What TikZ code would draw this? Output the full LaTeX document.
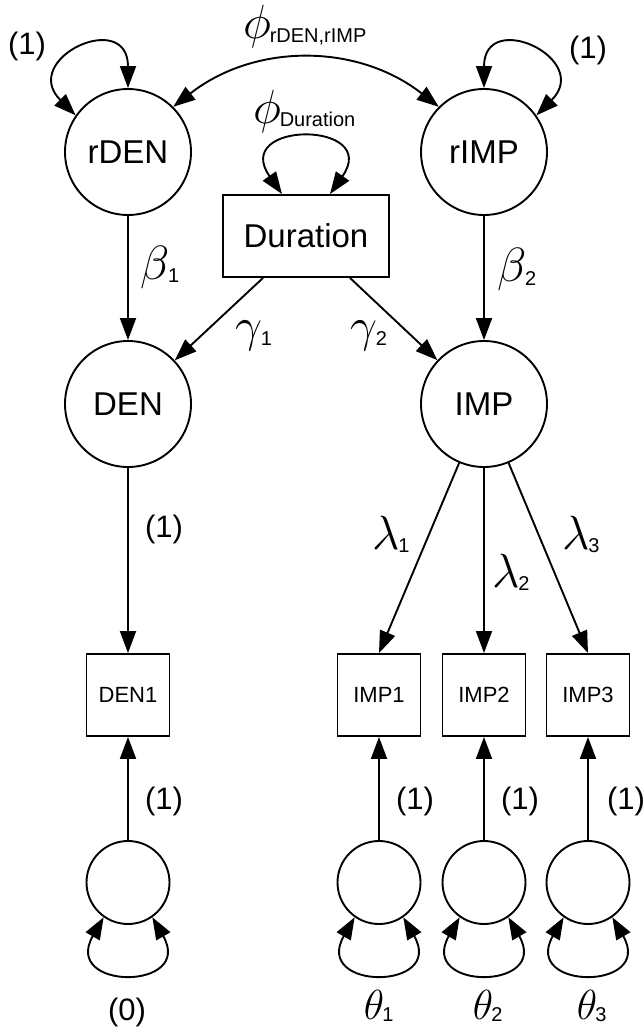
\RequirePackage{fix-cm}
\documentclass[tikz,border=0pt]{standalone}
\usepackage{fontspec}
\setmainfont{Liberation Sans}
\usetikzlibrary{arrows.meta}

% Greek parameter with a sans-serif subscript: [size] {letter} {lowering} {subscript}
\newcommand\grsub[4][48]{{\fontsize{#1}{#1}\selectfont$#2$}\kern-2pt\raisebox{-#3pt}{\fontsize{20}{20}\selectfont #4}}

\tikzset{
  latent/.style={circle, draw, minimum size=126pt, inner sep=0pt, font=\fontsize{33}{36}\selectfont},
  resid/.style={circle, draw, minimum size=83pt, inner sep=0pt},
  indicator/.style={rectangle, draw, minimum width=83pt, minimum height=82pt, inner sep=0pt, font=\fontsize{22}{24}\selectfont},
  covariate/.style={rectangle, draw, minimum width=166pt, minimum height=82pt, inner sep=0pt, font=\fontsize{33}{36}\selectfont},
  reg/.style={-{Triangle[length=22pt,width=16pt]}},
  twoway/.style={{Triangle[length=22pt,width=16pt]}-{Triangle[length=22pt,width=16pt]}},
  fixlbl/.style={inner sep=0pt, font=\fontsize{31}{34}\selectfont},
  greek/.style={inner sep=0pt, anchor=base west},
}

\begin{document}
\begin{tikzpicture}[x=1pt, y=1pt, line width=1.9pt]
\useasboundingbox (0,0) rectangle (644,-1027);

% structural part
\node[latent] (rDEN) at (128,-152) {rDEN};
\node[latent] (rIMP) at (484,-152) {rIMP};
\node[covariate] (Dur) at (306,-236) {Duration};
\node[latent] (DEN) at (128,-404) {DEN};
\node[latent] (IMP) at (484,-404) {IMP};

% measurement part
\node[indicator] (DEN1) at (128,-695) {DEN1};
\node[indicator] (IMP1) at (379,-695) {IMP1};
\node[indicator] (IMP2) at (484,-695) {IMP2};
\node[indicator] (IMP3) at (588,-695) {IMP3};

\node[resid] (e0) at (128,-882.5) {};
\node[resid] (e1) at (379,-882.5) {};
\node[resid] (e2) at (484,-882.5) {};
\node[resid] (e3) at (588,-882.5) {};

% regressions
\draw[reg] (rDEN) -- (DEN);
\draw[reg] (rIMP) -- (IMP);
\draw[reg] ([xshift=-43pt]Dur.south) -- (DEN);
\draw[reg] ([xshift=44pt]Dur.south) -- (IMP);
\draw[reg] (DEN) -- (DEN1);
\draw[reg] (IMP) -- (IMP1.north);
\draw[reg] (IMP) -- (IMP2);
\draw[reg] (IMP) -- (IMP3.north);
\draw[reg] (e0) -- (DEN1);
\draw[reg] (e1) -- (IMP1);
\draw[reg] (e2) -- (IMP2);
\draw[reg] (e3) -- (IMP3);

% covariance and variances
\draw[twoway] (rDEN.45) to[bend left=38] (rIMP.135);
\draw[twoway] (rDEN.145) to[out=135, in=90, distance=80pt] (rDEN.90);
\draw[twoway] (rIMP.35) to[out=45, in=90, distance=80pt] (rIMP.90);
\draw[twoway] ([xshift=-24pt]Dur.north) to[out=125, in=55, distance=90pt] ([xshift=24pt]Dur.north);
\draw[twoway] (e0.235) to[out=240, in=300, distance=85pt] (e0.305);
\draw[twoway] (e1.235) to[out=240, in=300, distance=85pt] (e1.305);
\draw[twoway] (e2.235) to[out=240, in=300, distance=85pt] (e2.305);
\draw[twoway] (e3.235) to[out=240, in=300, distance=85pt] (e3.305);

% fixed values
\node[fixlbl] (vrDEN) at (27,-46) {(1)};
\node[fixlbl] (vrIMP) at (588,-50) {(1)};
\node[fixlbl] (ld1) at (164,-529) {(1)};
\node[fixlbl] (f0) at (164,-801) {(1)};
\node[fixlbl] (f1) at (415,-801) {(1)};
\node[fixlbl] (f2) at (520,-801) {(1)};
\node[fixlbl] (f3) at (626,-801) {(1)};
\node[fixlbl] (v0) at (127,-1012) {(0)};

% free parameters
\node[greek] (phiR) at (243,-39) {\grsub{\phi}{4}{rDEN,rIMP}};
\node[greek] (phiD) at (253,-124) {\grsub{\phi}{3}{Duration}};
\node[greek] (b1) at (140,-279) {\grsub{\beta}{3}{1}};
\node[greek] (b2) at (497,-281) {\grsub{\beta}{4}{2}};
\node[greek] (g1) at (235,-341) {\grsub{\gamma}{4}{1}};
\node[greek] (g2) at (350,-341) {\grsub{\gamma}{4}{2}};
\node[greek] (l1) at (372,-549) {\grsub{\lambda}{3}{1}};
\node[greek] (l2) at (492,-587) {\grsub{\lambda}{3}{2}};
\node[greek] (l3) at (562,-549) {\grsub{\lambda}{3}{3}};
\node[greek] (t1) at (363,-1019) {\grsub[42]{\theta}{2}{1}};
\node[greek] (t2) at (472,-1019) {\grsub[42]{\theta}{2}{2}};
\node[greek] (t3) at (576,-1019) {\grsub[42]{\theta}{2}{3}};
\end{tikzpicture}
\end{document}
